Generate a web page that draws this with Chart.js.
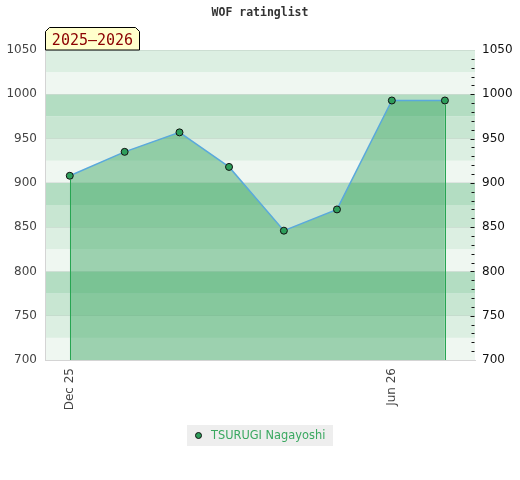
<!DOCTYPE html>
<html><head><meta charset="utf-8">
<script src="https://cdn.jsdelivr.net/npm/chart.js@4"></script>
<style>html,body{margin:0;padding:0;background:#fff}#wrap{width:520px;height:480px}</style>
</head><body><div id="wrap"><canvas id="c" width="520" height="480"></canvas></div>
<script>
const titleText = 'WOF ratinglist';
const seasonLabel = '2025–2026';
const playerName = 'TSURUGI Nagayoshi';
const dates = ['2025-12-01','2026-01-01','2026-02-01','2026-03-01','2026-04-01','2026-05-01','2026-06-01','2026-07-01'];
const ratings = [908, 935, 957, 918, 846, 870, 993, 993];
const tickDates = ['2025-12-01','2026-06-01'];
const tickLabels = ['Dec 25','Jun 26'];
const xRange = ['2025-11-17','2026-07-18'];
const yMin = 700, yMax = 1050, yStep = 50, minorStep = 10, bandStep = 25;
const bandColors = ['#eff7f1','#dcefe2','#c8e6d2','#b3ddc2'];

const day = s => (Date.parse(s) - Date.parse(dates[0])) / 86400000;
const points = dates.map((d, i) => ({x: day(d), y: ratings[i]}));
const tickVals = tickDates.map(day);

const green = '#2e9e5b';

const decor = {
  id: 'decor',
  beforeDraw(chart) {
    const {ctx, chartArea: a, scales: {y}} = chart;
    ctx.save();
    for (let v = yMin; v < yMax; v += bandStep) {
      const idx = Math.round((v % 100) / bandStep);
      const y1 = y.getPixelForValue(v), y2 = y.getPixelForValue(v + bandStep);
      ctx.fillStyle = bandColors[idx];
      ctx.fillRect(a.left, y2, a.right - a.left, y1 - y2);
    }
    ctx.restore();
  },
  afterDatasetsDraw(chart) {
    const {ctx, scales: {x, y}} = chart;
    ctx.save();
    ctx.strokeStyle = '#27a552';
    ctx.lineWidth = 1;
    [points[0], points[points.length - 1]].forEach(p => {
      const px = Math.round(x.getPixelForValue(p.x)) + 0.5;
      ctx.beginPath();
      ctx.moveTo(px, y.getPixelForValue(p.y) + 4);
      ctx.lineTo(px, y.getPixelForValue(yMin));
      ctx.stroke();
    });
    ctx.restore();
  },
  afterDraw(chart) {
    const {ctx, chartArea: a, scales: {y}} = chart;
    ctx.save();
    ctx.strokeStyle = '#111';
    ctx.lineWidth = 1;
    for (let v = yMin + minorStep; v < yMax; v += minorStep) {
      const py = Math.round(y.getPixelForValue(v)) + 0.5;
      const len = (v % yStep === 0) ? 4 : 3;
      ctx.beginPath();
      ctx.moveTo(a.right - len - 0.5, py);
      ctx.lineTo(a.right - 0.5, py);
      ctx.stroke();
    }
    ctx.fillStyle = '#333';
    ctx.font = 'bold 11.5px "DejaVu Sans Mono"';
    ctx.textAlign = 'center';
    ctx.textBaseline = 'middle';
    ctx.fillText(titleText, 260, 13);
    const bl = a.left, br = 140, bt = 27, bb = a.top;
    ctx.beginPath();
    ctx.moveTo(bl + 0.5, bb);
    ctx.lineTo(bl + 0.5, bt + 4.5);
    ctx.lineTo(bl + 4.5, bt + 0.5);
    ctx.lineTo(br - 4.5, bt + 0.5);
    ctx.lineTo(br - 0.5, bt + 4.5);
    ctx.lineTo(br - 0.5, bb);
    ctx.closePath();
    ctx.fillStyle = '#ffffcc';
    ctx.fill();
    ctx.strokeStyle = '#000';
    ctx.stroke();
    ctx.fillStyle = '#8b0000';
    ctx.font = '15px "DejaVu Sans Mono"';
    ctx.textAlign = 'center';
    ctx.textBaseline = 'alphabetic';
    ctx.fillText(seasonLabel, (bl + br) / 2, 45);
    ctx.fillStyle = '#eeeeee';
    ctx.fillRect(187, 425, 146, 21);
    ctx.beginPath();
    ctx.arc(198.5, 435.5, 3, 0, Math.PI * 2);
    ctx.fillStyle = green;
    ctx.fill();
    ctx.strokeStyle = '#111';
    ctx.stroke();
    ctx.fillStyle = '#3aa860';
    ctx.font = '11.4px "DejaVu Sans"';
    ctx.textAlign = 'left';
    ctx.textBaseline = 'middle';
    ctx.fillText(playerName, 211, 436);
    ctx.restore();
  }
};

const axisFont = {family: 'DejaVu Sans', size: 12};

new Chart(document.getElementById('c'), {
  type: 'line',
  data: {
    datasets: [{
      label: playerName,
      data: points,
      borderColor: '#5aa9dc',
      borderWidth: 1.5,
      backgroundColor: 'rgba(46,160,87,0.43)',
      fill: 'start',
      tension: 0,
      pointRadius: 3.5,
      pointBackgroundColor: green,
      pointBorderColor: '#111',
      pointBorderWidth: 1
    }]
  },
  options: {
    responsive: false,
    devicePixelRatio: 1,
    animation: false,
    layout: {padding: {top: 50, left: 0, right: 0, bottom: 0}},
    plugins: {legend: {display: false}, tooltip: {enabled: false}, title: {display: false}},
    scales: {
      x: {
        type: 'linear',
        min: day(xRange[0]),
        max: day(xRange[1]),
        afterFit: s => { s.height = 120; },
        afterBuildTicks: s => { s.ticks = tickVals.map(v => ({value: v})); },
        ticks: {
          autoSkip: false,
          minRotation: 90,
          maxRotation: 90,
          padding: 8,
          color: '#444',
          font: axisFont,
          callback: v => { const i = tickVals.indexOf(v); return i >= 0 ? tickLabels[i] : ''; }
        },
        grid: {display: false, drawTicks: false},
        border: {display: true, color: '#d4d4d4'}
      },
      y: {
        position: 'left',
        min: yMin, max: yMax,
        afterFit: s => { s.width = 45; },
        ticks: {stepSize: yStep, padding: 8, color: '#444', font: axisFont, callback: v => String(v)},
        grid: {drawTicks: false, color: 'rgba(0,0,0,0.07)'},
        border: {display: true, color: '#d4d4d4'}
      },
      y2: {
        position: 'right',
        min: yMin, max: yMax,
        afterFit: s => { s.width = 45; },
        ticks: {stepSize: yStep, padding: 7, color: '#111', font: axisFont, callback: v => String(v)},
        grid: {display: false, drawTicks: false},
        border: {display: false}
      }
    }
  },
  plugins: [decor]
});
</script>
</body></html>
